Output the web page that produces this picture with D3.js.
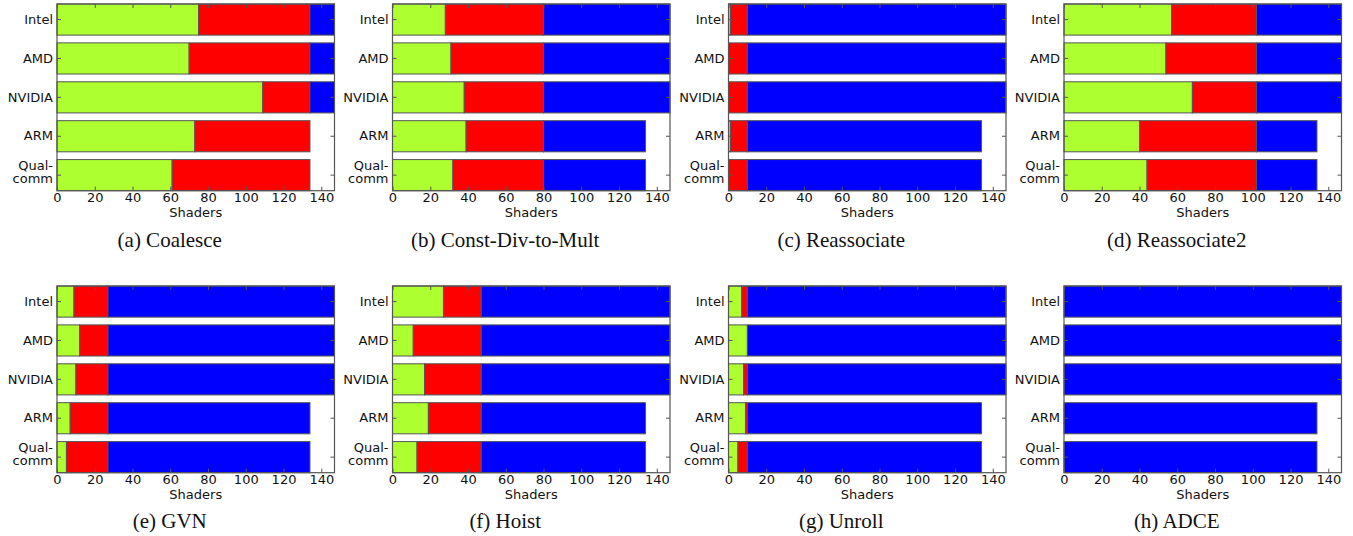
<!DOCTYPE html>
<html><head><meta charset="utf-8">
<script src="https://cdn.jsdelivr.net/npm/d3@7"></script>
<style>
body{margin:0;background:#fff}
svg{display:block}
</style>
</head><body>
<svg id="c" width="1353" height="536"></svg>
<script>
// ---- data ----
const vendors = ["Intel", "AMD", "NVIDIA", "ARM", "Qual-\ncomm"];
const captions = ["(a) Coalesce", "(b) Const-Div-to-Mult", "(c) Reassociate", "(d) Reassociate2",
                  "(e) GVN", "(f) Hoist", "(g) Unroll", "(h) ADCE"];
const xTicks = [0, 20, 40, 60, 80, 100, 120, 140];
const xMax = 147;
const xLabel = "Shaders";
// green segment per panel (Intel, AMD, NVIDIA, ARM, Qualcomm)
const greenValues = [
  [75, 70, 109, 73, 61],
  [28, 31, 38, 39, 32],
  [1, 0, 0, 1, 0],
  [57, 54, 68, 40, 44],
  [9, 12, 10, 7, 5],
  [27, 11, 17, 19, 13],
  [7, 10, 8, 9, 5],
  [0, 0, 0, 0, 0]
];
// red segment per panel
const redValues = [
  [59, 64, 25, 61, 73],
  [52, 49, 42, 41, 48],
  [9, 10, 10, 9, 10],
  [45, 48, 34, 62, 58],
  [18, 15, 17, 20, 22],
  [20, 36, 30, 28, 34],
  [3, 0, 2, 1, 5],
  [0, 0, 0, 0, 0]
];
// blue segment per panel
const blueValues = [
  [13, 13, 13, 0, 0],
  [67, 67, 67, 54, 54],
  [137, 137, 137, 124, 124],
  [45, 45, 45, 32, 32],
  [120, 120, 120, 107, 107],
  [100, 100, 100, 87, 87],
  [137, 137, 137, 124, 124],
  [147, 147, 147, 134, 134]
];
const seriesColors = ["#adff2f", "#ff0000", "#0000ff"];

// ---- layout ----
const svg = d3.select("#c");
const plotLefts = [57, 392.5, 728.5, 1064];
const plotTops = [4, 286];
const W = 277.5, H = 186.7;
const captionBaselines = [247, 528];
const lineCol = "#555";
const sansSize = 13;

captions.forEach((cap, i) => {
  const col = i % 4, row = Math.floor(i / 4);
  const g = svg.append("g")
    .attr("transform", `translate(${plotLefts[col]},${plotTops[row]})`);
  const x = d3.scaleLinear().domain([0, xMax]).range([0, W]);
  const y = d3.scaleBand().domain(vendors).range([0, H]).paddingInner(0.2).paddingOuter(0);

  const data = vendors.map((v, j) => ({ v, vals: [greenValues[i][j], redValues[i][j], blueValues[i][j]] }));
  const series = d3.stack().keys([0, 1, 2]).value((d, k) => d.vals[k])(data);

  series.forEach((s, k) => {
    g.append("g").selectAll("rect")
      .data(s.filter(d => d[1] - d[0] > 0))
      .join("rect")
      .attr("x", d => x(d[0]))
      .attr("width", d => x(d[1]) - x(d[0]))
      .attr("y", d => y(d.data.v))
      .attr("height", y.bandwidth())
      .attr("fill", seriesColors[k])
      .attr("stroke", lineCol)
      .attr("stroke-width", 1);
  });

  // frame
  g.append("rect").attr("x", 0).attr("y", 0).attr("width", W).attr("height", H)
    .attr("fill", "none").attr("stroke", lineCol).attr("stroke-width", 1.2);

  const style = sel => {
    sel.select(".domain").remove();
    sel.selectAll(".tick line").attr("stroke", lineCol);
    sel.selectAll("text").attr("font-size", sansSize).attr("fill", "#111")
      .attr("font-family", "DejaVu Sans, sans-serif");
  };

  g.append("g").attr("transform", `translate(0,${H})`)
    .call(d3.axisBottom(x).tickValues(xTicks).tickSize(-4).tickPadding(2))
    .call(style);
  g.append("g")
    .call(d3.axisTop(x).tickValues(xTicks).tickSize(-4).tickFormat(""))
    .call(style);
  g.append("g").attr("transform", `translate(${W},0)`)
    .call(d3.axisRight(y).tickSize(-4).tickFormat(""))
    .call(style);
  const ly = g.append("g")
    .call(d3.axisLeft(y).tickSize(-4).tickPadding(4))
    .call(style);
  ly.selectAll(".tick text").each(function(d) {
    const t = d3.select(this);
    const lines = d.split("\n");
    if (lines.length > 1) {
      t.text(null).attr("dy", null);
      t.append("tspan").attr("x", -4).attr("y", -5.5).text(lines[0]);
      t.append("tspan").attr("x", -4).attr("y", 7.5).text(lines[1]);
    }
  });

  g.append("text").attr("x", W / 2).attr("y", H + 26.5)
    .attr("text-anchor", "middle").attr("font-size", sansSize).attr("fill", "#111")
    .attr("font-family", "DejaVu Sans, sans-serif").text(xLabel);

  svg.append("text")
    .attr("x", plotLefts[col] + W / 2 - 26)
    .attr("y", captionBaselines[row])
    .attr("text-anchor", "middle")
    .attr("font-family", "Liberation Serif, Times New Roman, serif")
    .attr("font-size", 21).attr("fill", "#111")
    .text(cap);
});
</script>
</body></html>
